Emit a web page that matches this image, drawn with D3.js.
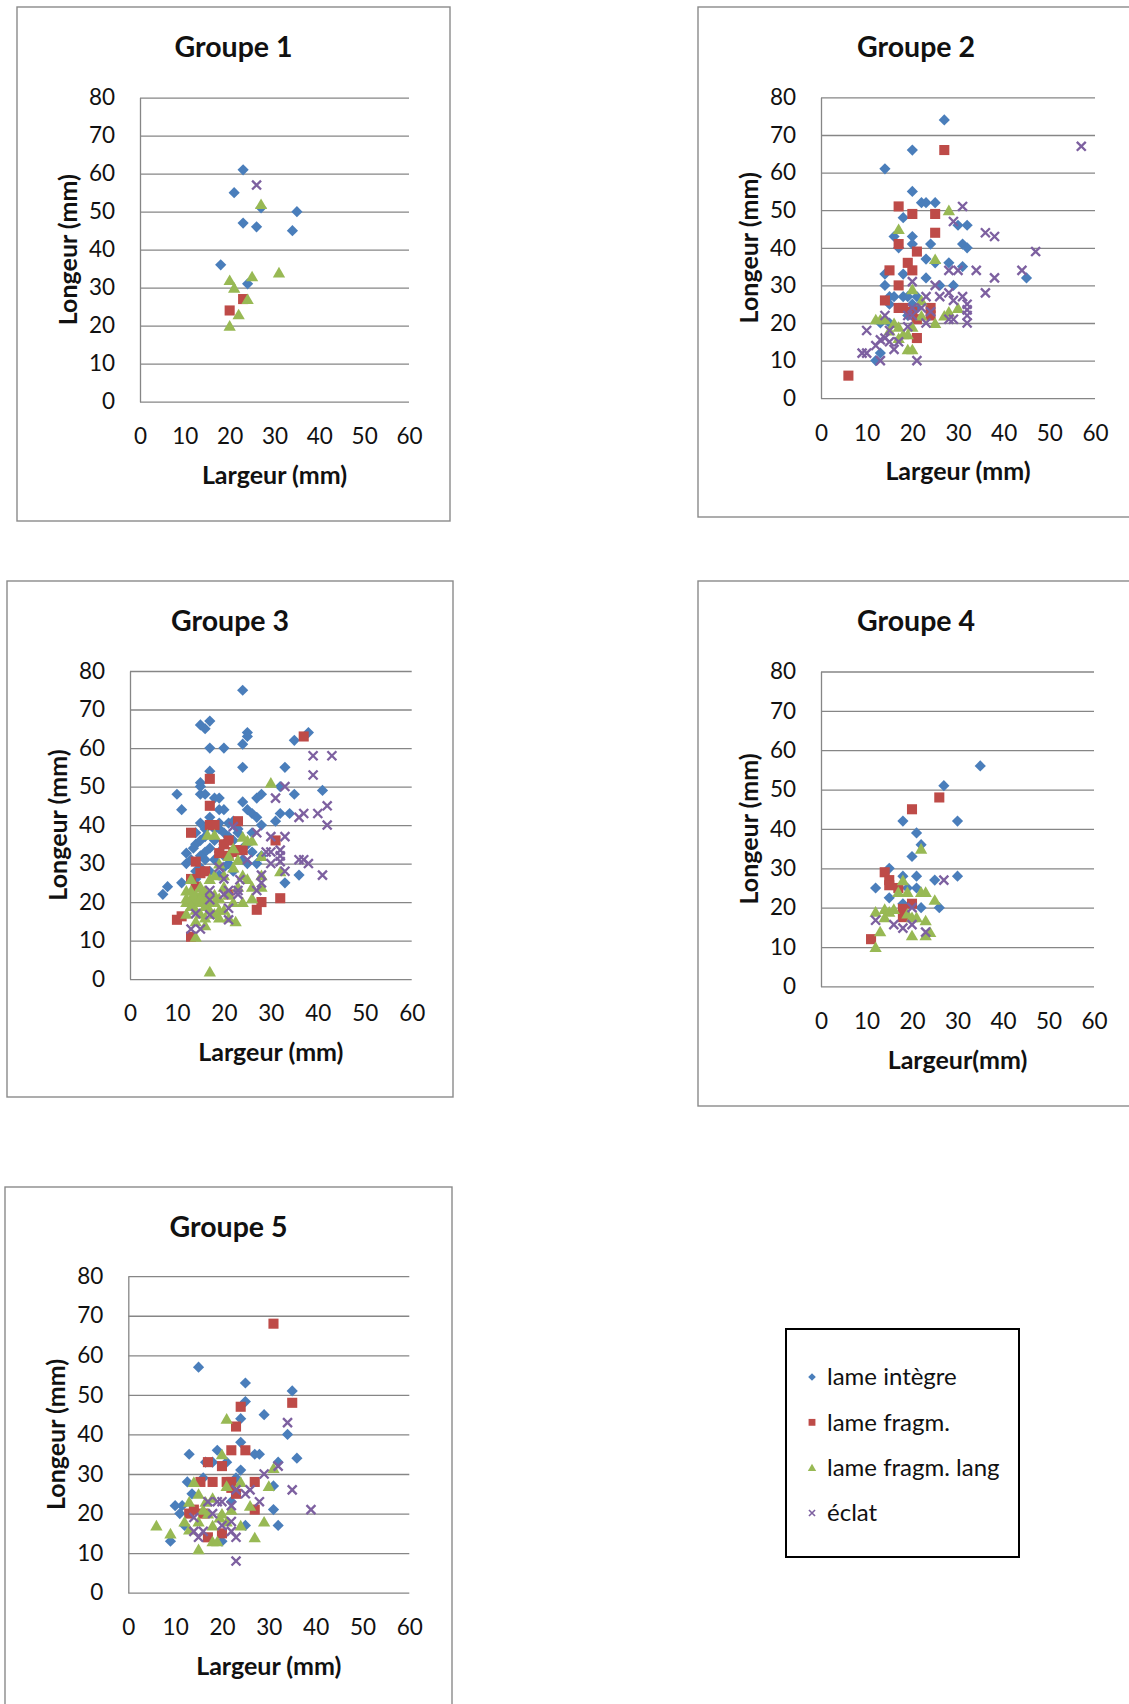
<!DOCTYPE html>
<html>
<head>
<meta charset="utf-8">
<script src="https://cdn.jsdelivr.net/npm/d3@7"></script>
<style>
  body { margin: 0; background: #fff; }
  svg text { font-family: Lato, "Open Sans", sans-serif; fill: #111; }
</style>
</head>
<body>
<div id="chart"></div>
<script>
// Titles, labels, ticks
const groupTitles = ["Groupe 1", "Groupe 2", "Groupe 3", "Groupe 4", "Groupe 5"];
const xAxisTitles = ["Largeur (mm)", "Largeur (mm)", "Largeur (mm)", "Largeur(mm)", "Largeur (mm)"];
const yAxisTitle = "Longeur (mm)";
const seriesNames = ["lame intègre", "lame fragm.", "lame fragm. lang", "éclat"];
const xTicks = [0, 10, 20, 30, 40, 50, 60];
const yTicks = [0, 10, 20, 30, 40, 50, 60, 70, 80];

// Points [largeur, longeur]
const g1Integre = [[23,61],[21,55],[27,51],[35,50],[23,47],[26,46],[34,45],[18,36],[24,31]];
const g1Fragm = [[20,24],[23,27]];
const g1FragmLang = [[27,52],[20,32],[21,30],[25,33],[31,34],[24,27],[22,23],[20,20]];
const g1Eclat = [[26,57]];

const g2Integre = [[27,74],[20,66],[14,61],[20,55],[22,52],[23,52],[25,52],[18,48],[30,46],[32,46],[16,43],[20,43],
  [20,41],[17,40],[24,41],[31,41],[32,40],[23,37],[25,36],[28,36],[31,35],[14,33],[18,33],[14,30],[23,32],[26,30],
  [29,30],[15,27],[16,27],[18,27],[19,27],[21,27],[45,32],[20,25],[21,24],[19,22],[13,20],[13,12],[12,10],[15,25],[15,20]];
const g2Fragm = [[27,66],[17,51],[20,49],[25,49],[25,44],[17,41],[21,39],[19,36],[20,34],[15,34],[17,30],[14,26],
  [17,24],[20,23],[24,24],[24,22],[21,21],[21,16],[6,6],[18,24]];
const g2FragmLang = [[28,50],[17,45],[25,37],[20,29],[22,26],[30,24],[28,23],[27,22],[25,20],[22,22],[12,21],[13,21],
  [16,20],[17,19],[17,16],[19,17],[19,13],[20,13],[15,18],[20,19],[14,21],[18,17]];
const g2Eclat = [[57,67],[31,51],[29,47],[36,44],[38,43],[47,39],[28,34],[30,34],[34,34],[44,34],[38,32],[36,28],
  [25,30],[28,28],[29,26],[31,27],[32,25],[32,23.5],[32,22],[32,20],[28,21],[29,21],[23,27],[26,27],[20,31],[23,20],
  [19,22],[20,22],[14,22],[10,18],[12,14],[13,15.5],[9,12],[10,12],[13,10],[21,10],[15,18],[16,13],[17,15],[14,16],
  [15,15],[19,19],[20,24],[22,24],[24,23]];

const g3Integre = [[24,75],[15,66],[16,65],[17,67],[17,60],[20,60],[24,61],[25,64],[25,63],[35,62],[38,64],[24,55],
  [33,55],[17,54],[15,51],[15,50],[10,48],[15,48],[16,48],[18,47],[19,47],[27,47],[28,48],[32,50],[35,48],[41,49],
  [11,44],[19,44],[20,44],[24,46],[25,44],[26,43],[27,42],[32,43],[34,43],[31,41],[28,40],[15,40.5],[17,40.5],
  [19,40.5],[21,40.5],[22,40.5],[12,32.7],[12,30],[11,25],[8,24],[7,22],[33,25],[36,27],[14,35],[13.5,34],[14,38],
  [16,37],[18,36],[20,38],[22,36],[23,38],[25,35],[26,33],[16,33],[18,31],[20,32],[21,30],[24,31],[27,30],[15,29],
  [17,28],[19,27],[22,28],[17,42],[19,39],[23,39],[16,31],[14,28],[26,38],[28,32],[20,35],[13,31],[15,36],[17,34],
  [18,39],[21,37],[22,41],[24,34],[15,32],[19,33],[16,39],[14,26],[25,30],[20,29]];
const g3Fragm = [[37,63],[17,52],[17,45],[17,40],[18,40],[23,41],[13,38],[31,36],[21,36],[23,33.5],[24,33.5],
  [14,30.5],[15,27.5],[13,26],[14,24],[32,21],[27,18],[28,20],[10,15.4],[11,16.3],[13,11],[19,32.7],[21,32],[20,35],
  [22,33],[16,28],[21,22]];
const g3FragmLang = [[30,51],[16.5,37.5],[18,37.5],[25,36],[24,37],[26,36],[22,34],[28,32],[32,28],[17,2],[12,23],
  [13,21],[14,20],[15,22],[16,23],[17,26],[18,27],[19,30],[21,32],[22,29],[22.5,15],[21,16],[16,14],[14,11],[12,17],
  [13,26],[19,21],[21,22],[25,26],[26,21],[28,27],[28,24],[23,24],[18,17],[20,18],[12,20],[15,17],[17,20],[19,18],
  [24,20],[23,31],[20,24],[14,22],[12,21],[13,19],[14,18],[15,20],[16,21],[16,19],[17,22],[18,20],[13,23],[15,24],
  [16,16],[17,18],[18,22],[20,27],[22,20],[24,27],[26,24],[19,16],[14,15],[15,21]];
const g3Eclat = [[39,58],[43,58],[39,53],[33,50],[31,47],[42,45],[36,42],[37,43],[40,43],[42,40],[27,38],[30,37],
  [33,37],[30,33],[29,33],[32,33.5],[32,32],[32,30.5],[30,30],[36,31],[37,31],[38,30],[41,27],[33,28],[28,27],[28,25],
  [27,23],[23.4,25.8],[23,23],[23,22],[21,23],[20,22],[17,23],[17,20.6],[14,17],[17,16.7],[13,13],[15,13],[21,18.4],
  [21,15.4],[22,39.6],[19,29],[25,31],[20,26]];

const g4Integre = [[35,56],[27,51],[30,42],[18,42],[21,39],[22,36],[20,33],[15,30],[18,28],[21,28],[25,27],[30,28],
  [12,25],[19,25],[21,25],[15,22.5],[18,21],[22,20],[26,20]];
const g4Fragm = [[26,48],[20,45],[14,29],[15,27],[15,25.7],[17,25],[20,21],[18,19.7],[18,17.6],[11,12]];
const g4FragmLang = [[22,35],[18,27],[17,24],[19,24],[22,24],[23,24],[25,22],[12,19],[14,19.7],[15,19],[16,19.7],
  [14,17.6],[13,14],[12,10],[20,17.6],[21,17.6],[23,16.8],[24,13.8],[20,13],[23,13],[19,18.5]];
const g4Eclat = [[27,27],[20,20],[12,16.8],[16,15.7],[18,14.8],[20,15.7],[23,13.8]];

const g5Integre = [[15,57],[25,53],[35,51],[25,48.3],[29,45],[24,44],[34,40],[24,38],[36,34],[13,35],[19,36],[27,35],
  [28,35],[16.5,33],[24,31],[32,33],[12.6,28],[31,27],[13.6,25],[10,22],[11.5,22],[11,20],[12,17],[9,13],[32,17],
  [31,21],[25,17],[20,13],[23,29],[16,29],[18,33],[21,33],[22,23]];
const g5Fragm = [[31,68],[35,48],[24,47],[23,42],[22,36],[25,36],[17,33],[20,32],[15.4,28],[18,28],[21,28],[22,26.5],
  [23,25],[27,28],[27,21],[13,20],[14,21],[17,14],[20,15],[16,20],[22,28]];
const g5FragmLang = [[21,44],[20,35],[31,31.5],[30,27],[14,28],[15,25],[21,27],[24,28],[13,23],[12,18],[6,17],[9,15],
  [15,11],[27,14],[29,18],[26,22],[18,13],[19,13],[17,20],[16,21],[16.5,23],[18,17],[19.5,19],[21,18],[24,17],[13,16],
  [15,18],[18,24],[20,20],[22,21]];
const g5Eclat = [[34,43],[32,32],[29,30],[35,26],[39,21],[23,26],[25,25],[26,26],[28,23],[17,23],[19,23],[20,23],
  [22,22],[18,20],[14,19],[20,17],[22,18],[14,15.5],[16,15.5],[15,14],[22,15.5],[23,14],[23,8]];

const groupData = [
  [g1Integre, g1Fragm, g1FragmLang, g1Eclat],
  [g2Integre, g2Fragm, g2FragmLang, g2Eclat],
  [g3Integre, g3Fragm, g3FragmLang, g3Eclat],
  [g4Integre, g4Fragm, g4FragmLang, g4Eclat],
  [g5Integre, g5Fragm, g5FragmLang, g5Eclat]
];

// Layout: chart frame and plot area of each panel [left, top, right, bottom]
const frames = [[17,7,450,521],[698,7,1134,517],[7,581,453,1097],[698,581,1134,1106],[5,1187,452,1720]];
const plots = [[140,97.6,409,401.7],[821,97.4,1095,398.2],[130,671,411.7,979.1],[821,671.5,1094,986.4],[128.3,1276.2,409.3,1592.7]];

const colors = ["#4a7ebb", "#be4b48", "#98b954", "#7d60a0"];

// marker shapes (Excel style)
function marker(sel, i, s) {
  if (i === 0) sel.append("path").attr("d", `M0,${-s}L${s},0L0,${s}L${-s},0Z`).attr("fill", colors[0]);
  else if (i === 1) sel.append("rect").attr("x", -s * 0.9).attr("y", -s * 0.9)
      .attr("width", s * 1.8).attr("height", s * 1.8).attr("fill", colors[1]);
  else if (i === 2) sel.append("path").attr("d", `M0,${-s}L${s * 1.1},${s * 0.9}L${-s * 1.1},${s * 0.9}Z`).attr("fill", colors[2]);
  else sel.append("path").attr("d", `M${-s * 0.8},${-s * 0.8}L${s * 0.8},${s * 0.8}M${s * 0.8},${-s * 0.8}L${-s * 0.8},${s * 0.8}`)
      .attr("stroke", colors[3]).attr("stroke-width", s * 0.42).attr("fill", "none");
}

const svg = d3.select("#chart").append("svg")
    .attr("width", 1129)
    .attr("height", 1704);

svg.append("rect").attr("width", 1129).attr("height", 1704).attr("fill", "#fff");

groupData.forEach((series, gi) => {
  const [fl, ft, fr, fb] = frames[gi];
  const [pl, pt, pr, pb] = plots[gi];
  const w = pr - pl, h = pb - pt;

  svg.append("rect")
      .attr("x", fl).attr("y", ft)
      .attr("width", fr - fl).attr("height", fb - ft)
      .attr("fill", "#fff")
      .attr("stroke", "#8a8a8a")
      .attr("stroke-width", 1.4);

  svg.append("text")
      .attr("x", (fl + fr) / 2)
      .attr("y", ft + 50)
      .attr("text-anchor", "middle")
      .style("font-size", "28.5px")
      .style("font-weight", "bold")
      .text(groupTitles[gi]);

  const g = svg.append("g").attr("transform", `translate(${pl},${pt})`);

  const x = d3.scaleLinear().domain([0, 60]).range([0, w]);
  const y = d3.scaleLinear().domain([0, 80]).range([h, 0]);

  // y axis with gridlines
  const yAx = g.append("g")
      .call(d3.axisLeft(y).tickValues(yTicks).tickSize(-w).tickSizeOuter(0).tickPadding(25));
  yAx.select(".domain").attr("stroke", "#868686").attr("stroke-width", 1.3);
  yAx.selectAll(".tick line").attr("stroke", "#868686").attr("stroke-width", 1.3);
  yAx.selectAll(".tick text").style("font-size", "22.5px").attr("fill", "#111").attr("font-family", null);

  // x axis labels only
  const xAx = g.append("g")
      .attr("transform", `translate(0,${h})`)
      .call(d3.axisBottom(x).tickValues(xTicks).tickSize(0));
  xAx.select(".domain").remove();
  xAx.selectAll(".tick text").style("font-size", "22.5px").attr("fill", "#111")
      .attr("font-family", null).attr("y", 34.5).attr("dy", "0.35em");

  g.append("text")
      .attr("x", w / 2)
      .attr("y", h + 73.5)
      .attr("dy", "0.35em")
      .attr("text-anchor", "middle")
      .style("font-size", "25px")
      .style("font-weight", "bold")
      .text(xAxisTitles[gi]);

  g.append("text")
      .attr("transform", "rotate(-90)")
      .attr("x", -h / 2)
      .attr("y", -72)
      .attr("dy", "0.35em")
      .attr("text-anchor", "middle")
      .style("font-size", "25px")
      .style("font-weight", "bold")
      .text(yAxisTitle);

  series.forEach((pts, si) => {
    g.selectAll(`.s${si}`)
        .data(pts)
      .enter().append("g")
        .attr("class", `s${si}`)
        .attr("transform", d => `translate(${x(d[0])},${y(d[1])})`)
        .each(function() { marker(d3.select(this), si, 5.6); });
  });
});

// Legend
const legend = svg.append("g");
legend.append("rect")
    .attr("x", 786).attr("y", 1329)
    .attr("width", 233).attr("height", 228)
    .attr("fill", "#fff")
    .attr("stroke", "#000")
    .attr("stroke-width", 2);

const legendY = d3.scalePoint().domain(seriesNames).range([1377, 1513]);
seriesNames.forEach((name, i) => {
  const item = legend.append("g").attr("transform", `translate(0,${legendY(name)})`);
  item.append("g").attr("transform", "translate(812,0)").each(function() { marker(d3.select(this), i, 3.8); });
  item.append("text")
      .attr("x", 827)
      .attr("dy", "0.35em")
      .style("font-size", "24px")
      .text(name);
});
</script>
</body>
</html>
